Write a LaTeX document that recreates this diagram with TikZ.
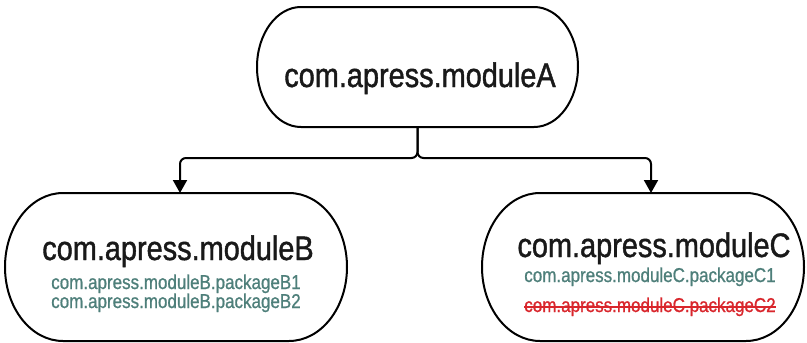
\documentclass[tikz,border=0pt]{standalone}
\usepackage{fontspec}
\newfontfamily\condfont{Liberation Sans}[FakeStretch=0.85,FakeBold=1.2]
\newfontfamily\pkgfont{Liberation Sans}[FakeStretch=0.85,FakeBold=0.8]
\usetikzlibrary{arrows.meta,calc}
\definecolor{pkgteal}{HTML}{4E7F7A}
\definecolor{pkgred}{HTML}{D9262C}
\tikzset{
  box/.style={rectangle, draw=none, inner sep=0pt, outer sep=0pt},
  border/.style={draw=black, line width=2pt},
  conn/.style={draw=black, line width=2pt, rounded corners=6pt, -{Triangle[width=14pt,length=13pt]}},
  titletext/.style={inner sep=0pt, font=\condfont\fontsize{34}{40}\selectfont, text=black!90},
  pkgtext/.style={inner sep=0pt, font=\pkgfont\fontsize{20}{19}\selectfont, text=pkgteal},
  pkgdead/.style={pkgtext, text=pkgred}
}
\newcommand{\stadiumoutline}[3]{%
  \draw[border] ($(#1.north west)+(#2,0)$) -- ($(#1.north east)+(-#2,0)$)
    arc[start angle=90, end angle=-90, x radius=#2, y radius=#3]
    -- ($(#1.south west)+(#2,0)$)
    arc[start angle=270, end angle=90, x radius=#2, y radius=#3] -- cycle;}
\begin{document}
\begin{tikzpicture}
\useasboundingbox[fill=white] (0pt,0pt) rectangle (807pt,-343pt);

% module boxes
\node[box, minimum width=321pt, minimum height=120pt] (A) at (417.5pt,-67pt) {};
\node[box, minimum width=342pt, minimum height=148pt] (B) at (176pt,-267pt) {};
\node[box, minimum width=322pt, minimum height=148pt] (C) at (643pt,-267pt) {};
\stadiumoutline{A}{44pt}{60pt}
\stadiumoutline{B}{58pt}{74pt}
\stadiumoutline{C}{58pt}{74pt}

% titles
\node[titletext, anchor=base] (At) at (420pt,-87pt) {com.apress.moduleA};
\node[titletext, anchor=base] (Bt) at (178pt,-260pt) {com.apress.moduleB};
\node[titletext, anchor=base] (Ct) at (654pt,-257pt) {com.apress.moduleC};

% packages
\node[pkgtext, anchor=base] (B1) at (176pt,-289pt) {com.apress.moduleB.packageB1};
\node[pkgtext, anchor=base] (B2) at (176pt,-308pt) {com.apress.moduleB.packageB2};
\node[pkgtext, anchor=base] (C1) at (650pt,-282pt) {com.apress.moduleC.packageC1};
\node[pkgdead, anchor=base] (C2) at (650pt,-312pt) {com.apress.moduleC.packageC2};
\draw[pkgred, line width=1.4pt] ($(C2.base west)+(0,5pt)$) -- ($(C2.base east)+(0,5pt)$);

% connectors
\coordinate (J) at ($(A.south)+(0,-31pt)$);
\draw[conn] (A.south) -- (J) -| ($(B.north)+(4pt,0)$);
\draw[conn] (A.south) -- (J) -| ($(C.north)+(8pt,0)$);
\end{tikzpicture}
\end{document}
